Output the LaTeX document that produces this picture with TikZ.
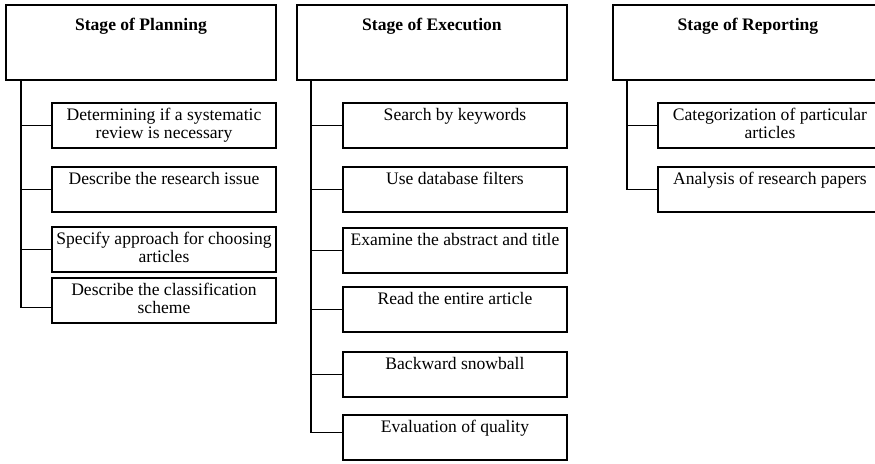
\documentclass[tikz,border=0pt]{standalone}
\usepackage{fontspec}
\setmainfont{Liberation Serif}
\usepackage{tikz}
\usetikzlibrary{calc,positioning}

\begin{document}
\begin{tikzpicture}[x=0.02cm, y=-0.02cm, line width=0.75pt]
	\tikzstyle{stage} = [draw = black, anchor = north west, align = flush center, font = \fontsize{10}{10.4}\selectfont\bfseries,
		text width = 5.36cm, inner xsep = 0.02cm, inner ysep = 0pt, outer sep = 0pt, text height = 14.7pt, text depth = 27.98pt]
	\tikzstyle{task} = [draw = black, anchor = north west, align = flush center, font = \fontsize{10}{10.4}\selectfont,
		text width = 4.44cm, inner xsep = 0.02cm, inner ysep = 0pt, outer sep = 0pt, text height = 9.9pt, text depth = 15.7pt]
\useasboundingbox (0, 0) rectangle (875, 463);
\clip (0, 0) rectangle (875, 463);

% planning
\node[stage] (p) at (6, 5) {Stage of Planning};
\node[task] (p1) at (52, 103) {Determining if a systematic\\ review is necessary};
\node[task] (p2) at (52, 167) {Describe the research issue};
\node[task] (p3) at (52, 227) {Specify approach for choosing\\ articles};
\node[task] (p4) at (52, 278) {Describe the classification\\ scheme};

% execution
\node[stage] (e) at (297, 5) {Stage of Execution};
\node[task] (e1) at (343, 103) {Search by keywords};
\node[task] (e2) at (343, 167) {Use database filters};
\node[task] (e3) at (343, 228) {Examine the abstract and title};
\node[task] (e4) at (343, 287) {Read the entire article};
\node[task] (e5) at (343, 352) {Backward snowball};
\node[task] (e6) at (343, 415) {Evaluation of quality};

% reporting
\node[stage] (r) at (613, 5) {Stage of Reporting};
\node[task] (r1) at (658, 103) {Categorization of particular\\ articles};
\node[task] (r2) at (658, 167) {Analysis of research papers};

\coordinate (pt) at ($(p.south west)+(15, 0)$);
\coordinate (et) at ($(e.south west)+(14, 0)$);
\coordinate (rt) at ($(r.south west)+(14, 0)$);

	\path[draw] (pt) |- (p1.west);
	\path[draw] (pt) |- (p2.west);
	\path[draw] (pt) |- (p3.west);
	\path[draw] (pt) |- ($(p4.west)+(0, 7)$);
	\path[draw] (et) |- (e1.west);
	\path[draw] (et) |- (e2.west);
	\path[draw] (et) |- (e3.west);
	\path[draw] (et) |- (e4.west);
	\path[draw] (et) |- (e5.west);
	\path[draw] (et) |- ($(e6.west)+(0, -5)$);
	\path[draw] (rt) |- (r1.west);
	\path[draw] (rt) |- (r2.west);
\end{tikzpicture}
\end{document}
